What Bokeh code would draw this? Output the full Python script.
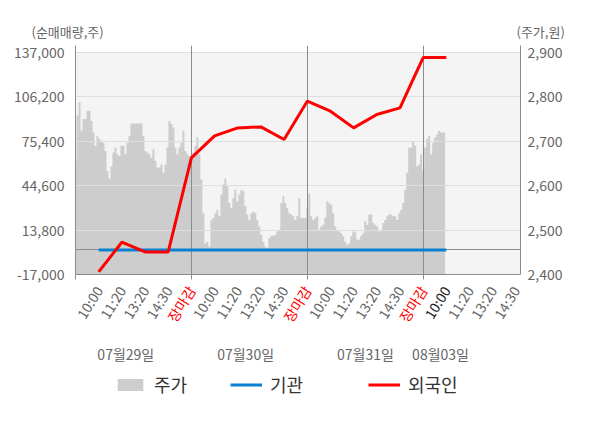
import math
import numpy as np
from bokeh.plotting import figure
from bokeh.layouts import column
from bokeh.models import (Range1d, LinearAxis, FixedTicker, NumeralTickFormatter,
                          Legend, LegendItem, BoxAnnotation, ColumnDataSource)
from bokeh.core.properties import value
from bokeh.embed import file_html
from bokeh.resources import INLINE

# ---------------- data ----------------
slot_labels = ["10:00", "11:20", "13:20", "14:30", "장마감",
               "10:00", "11:20", "13:20", "14:30", "장마감",
               "10:00", "11:20", "13:20", "14:30", "장마감",
               "10:00", "11:20", "13:20", "14:30"]
close_slots = [4, 9, 14]
current_slot = 15
day_bounds = [-1, 4, 9, 14]
day_labels = ["07월29일", "07월30일", "07월31일", "08월03일"]
day_label_pos = [1.17, 6.34, 11.51, 14.75]

left_ticks = [-17000, 13800, 44600, 75400, 106200, 137000]
right_ticks = [2400, 2500, 2600, 2700, 2800, 2900]

flow_slots = list(range(16))
foreign = [-15200, 5400, -1320, -1320, 63900, 79150, 84700, 85400,
           76650, 103200, 96300, 84700, 94000, 98600, 133500, 133500]
institution = [0] * 16

price = [2656, 2758, 2788, 2724, 2750, 2750, 2769, 2769, 2746, 2720,
         2690, 2712, 2705, 2701, 2697, 2678, 2633, 2616, 2644, 2675,
         2686, 2671, 2667, 2690, 2690, 2671, 2697, 2712, 2740, 2740,
         2740, 2740, 2740, 2740, 2712, 2678, 2675, 2671, 2663, 2682,
         2656, 2641, 2641, 2648, 2629, 2648, 2686, 2746, 2739, 2731,
         2686, 2671, 2686, 2697, 2724, 2678, 2671, 2667, 2667, 2675,
         2690, 2709, 2671, 2614, 2538, 2470, 2474, 2463, 2523, 2527,
         2538, 2546, 2531, 2580, 2603, 2616, 2599, 2561, 2550, 2572,
         2591, 2565, 2580, 2591, 2588, 2554, 2535, 2523, 2538, 2542,
         2538, 2523, 2508, 2489, 2474, 2463, 2459, 2482, 2487, 2487,
         2489, 2497, 2501, 2561, 2576, 2561, 2550, 2538, 2535, 2531,
         2523, 2531, 2572, 2527, 2527, 2527, 2550, 2582, 2531, 2523,
         2527, 2531, 2501, 2508, 2512, 2527, 2565, 2561, 2557, 2538,
         2508, 2499, 2497, 2493, 2486, 2474, 2467, 2470, 2486, 2497,
         2495, 2479, 2478, 2487, 2493, 2520, 2512, 2535, 2535, 2516,
         2512, 2508, 2497, 2501, 2516, 2523, 2531, 2535, 2535, 2531,
         2531, 2523, 2538, 2546, 2561, 2591, 2629, 2686, 2686, 2699,
         2690, 2644, 2648, 2671, 2633, 2686, 2705, 2712, 2671, 2697,
         2709, 2716, 2724, 2720, 2720, 2720]
price_start, price_end = -1.0, 14.95
price_x = np.linspace(price_start, price_end, len(price))

# ---------------- styles / layout ----------------
FONT = "Noto Sans CJK KR"
TXT = "#666666"
AX = "#8c8c8c"
AREA = "#cdcdcd"
BLUE = "#0a80d2"
RED = "#ff0000"

W, H = 600, 428
TOP_H = 43                 # strip with the axis titles
FRAME_H = 229
B_LEFT, B_RIGHT, B_TOP, B_BOTTOM = 75, 80, 2, 9
MAIN_H = B_TOP + FRAME_H + B_BOTTOM
BOT_H = H - TOP_H - MAIN_H
X0, X1 = -1, 18.2
top_pad_px = 7
y0, y1 = left_ticks[0], left_ticks[-1]
upp = (y1 - y0) / (FRAME_H - top_pad_px)
r0, r1 = right_ticks[0], right_ticks[-1]
rupp = (r1 - r0) / (FRAME_H - top_pad_px)
xupp = (X1 - X0) / (W - B_LEFT - B_RIGHT)


def bare(fig):
    fig.outline_line_color = None
    fig.xgrid.visible = False
    fig.ygrid.visible = False
    fig.background_fill_color = "white"
    fig.border_fill_color = "white"
    fig.frame_align = False
    return fig


# ---------- top strip: axis titles ----------
p0 = bare(figure(width=W, height=TOP_H, output_backend="svg", toolbar_location=None,
                 x_range=Range1d(0, W), y_range=Range1d(-TOP_H, 0),
                 x_axis_location=None, y_axis_location=None,
                 min_border_left=0, min_border_right=0, min_border_top=0,
                 min_border_bottom=0))
p0.text(x=[31], y=[-31], text=["(순매매량,주)"], text_align="left",
        text_baseline="middle", text_font=value(FONT), text_font_size="13px",
        text_color=TXT)
p0.text(x=[516], y=[-31], text=["(주가,원)"], text_align="left",
        text_baseline="middle", text_font=value(FONT), text_font_size="13px",
        text_color=TXT)

# ---------- main chart ----------
p = bare(figure(width=W, height=MAIN_H, output_backend="svg", toolbar_location=None,
                x_range=Range1d(X0, X1),
                y_range=Range1d(y0, y1 + top_pad_px * upp),
                min_border_left=B_LEFT, min_border_right=B_RIGHT,
                min_border_top=B_TOP, min_border_bottom=B_BOTTOM))
p.extra_y_ranges = {"price": Range1d(r0, r1 + top_pad_px * rupp)}

p.add_layout(BoxAnnotation(top=y1, fill_color="#f4f4f4", fill_alpha=1,
                           line_color=None, level="underlay"))

p.varea_step(x=price_x, y1=[r0] * len(price), y2=price, step_mode="center",
             fill_color=AREA, y_range_name="price")
p.hspan(y=left_ticks[1:], line_color="#dedede", line_width=1)
p.hspan(y=[0], line_color=AX, line_width=1)
p.vspan(x=day_bounds[1:], line_color=AX, line_width=1)
p.line(flow_slots, institution, line_color=BLUE, line_width=3)
p.line(flow_slots, foreign, line_color=RED, line_width=3)

yl = p.yaxis[0]
yl.ticker = FixedTicker(ticks=left_ticks)
yl.formatter = NumeralTickFormatter(format="0,0")
yr = LinearAxis(y_range_name="price", ticker=FixedTicker(ticks=right_ticks),
                formatter=NumeralTickFormatter(format="0,0"))
p.add_layout(yr, "right")
for ax, so in ((yl, 11), (yr, 7)):
    ax.axis_line_color = AX
    ax.major_tick_line_color = None
    ax.minor_tick_line_color = None
    ax.major_tick_out = 0
    ax.major_tick_in = 0
    ax.major_label_standoff = so
    ax.major_label_text_font = FONT
    ax.major_label_text_font_size = "14px"
    ax.major_label_text_color = TXT

xa = p.xaxis[0]
xa.ticker = FixedTicker(ticks=list(range(len(slot_labels))), minor_ticks=day_bounds)
xa.major_label_overrides = {i: "" for i in range(len(slot_labels))}
xa.major_label_text_font_size = "0px"
xa.major_label_standoff = 0
xa.axis_line_color = AX
xa.major_tick_line_color = None
xa.major_tick_out = 0
xa.major_tick_in = 0
xa.minor_tick_line_color = AX
xa.minor_tick_out = 5
xa.minor_tick_in = 0

# ---------- bottom strip: tick labels, dates, legend ----------
p2 = bare(figure(width=W, height=BOT_H, output_backend="svg", toolbar_location=None,
                 x_range=Range1d(X0 - B_LEFT * xupp, X1 + B_RIGHT * xupp),
                 y_range=Range1d(-BOT_H, 0),
                 x_axis_location=None, y_axis_location=None,
                 min_border_left=0, min_border_right=0, min_border_top=0,
                 min_border_bottom=0))
ANG = math.radians(58)
label_colors = [RED if i in close_slots else ("#222222" if i == current_slot else TXT)
                for i in range(len(slot_labels))]
src = ColumnDataSource(dict(x=list(range(len(slot_labels))),
                            y=[-4] * len(slot_labels),
                            text=slot_labels, color=label_colors))
p2.text(x="x", y="y", text="text", source=src, angle=ANG, text_align="right",
        text_baseline="middle", text_font=value(FONT), text_font_size="14px",
        text_color="color")
p2.text(x=day_label_pos, y=[-70] * len(day_labels), text=day_labels,
        text_align="center", text_baseline="middle", text_font=value(FONT),
        text_font_size="14px", text_color=TXT)

# legend swatches: one-point renderers with the chart's styles (draw nothing)
lg_area = p2.varea(x=flow_slots[:1], y1=[0], y2=[0], fill_color=AREA)
lg_inst = p2.line(x=flow_slots[:1], y=[0], line_color=BLUE, line_width=3)
lg_forn = p2.line(x=flow_slots[:1], y=[0], line_color=RED, line_width=3)
for lab, rend, lx in (("주가", lg_area, 114), ("기관", lg_inst, 230), ("외국인", lg_forn, 368)):
    lg = Legend(items=[LegendItem(label=lab, renderers=[rend])],
                location=(lx, 31), orientation="horizontal",
                glyph_width=32, glyph_height=15, label_height=20, label_standoff=8,
                padding=0, margin=0, border_line_color=None,
                background_fill_alpha=0, label_text_font=FONT,
                label_text_font_size="18px", label_text_color="#333333")
    p2.add_layout(lg, "center")

layout = column(p0, p, p2, spacing=0)
open("out.html", "w").write(file_html(layout, INLINE))
